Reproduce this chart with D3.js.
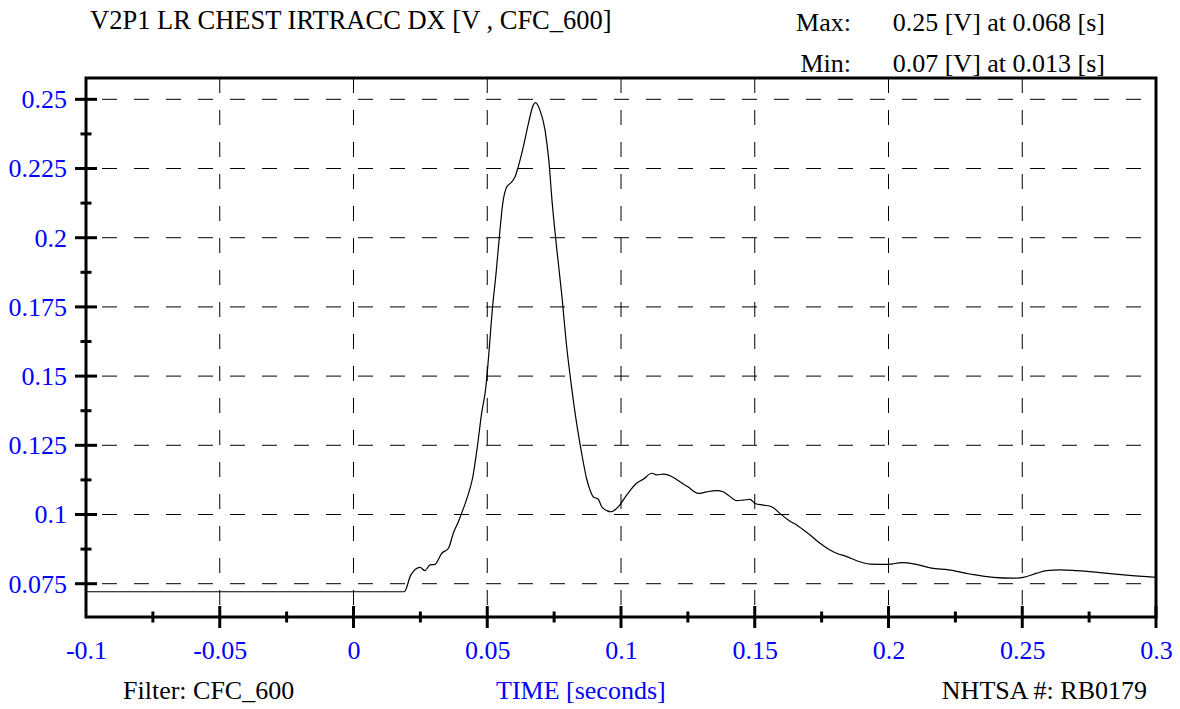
<!DOCTYPE html>
<html>
<head>
<meta charset="utf-8">
<script src="https://cdn.jsdelivr.net/npm/d3@7"></script>
<style>
  html, body { margin: 0; padding: 0; background: #fff; }
  svg text { font-family: "Liberation Serif", "Times New Roman", serif; font-size: 26px; }
</style>
</head>
<body>
<svg id="chart" width="1180" height="709"></svg>
<script>
// ---- data ----
const timeS = [-0.1, 0.019, 0.0214, 0.0249, 0.0267, 0.0286, 0.0305, 0.033, 0.0355, 0.0373, 0.0392,
  0.0411, 0.0428, 0.0445, 0.0463, 0.0479, 0.0495, 0.0504, 0.052, 0.0533, 0.0545, 0.0558, 0.0573,
  0.059, 0.0604, 0.0616, 0.0635, 0.0654, 0.0672, 0.068, 0.0697, 0.0716, 0.073, 0.0743, 0.0759,
  0.0778, 0.0797, 0.0815, 0.0834, 0.0853, 0.0871, 0.0884, 0.0896, 0.0915, 0.0928, 0.0947, 0.0963,
  0.099, 0.1021, 0.1058, 0.1083, 0.1115, 0.1133, 0.1158, 0.1196, 0.122, 0.1250, 0.1289, 0.132,
  0.1358, 0.1382, 0.1401, 0.1432, 0.1457, 0.1482, 0.1501, 0.1532, 0.1563, 0.1594, 0.1625, 0.1663,
  0.1707, 0.1744, 0.1781, 0.1806, 0.1844, 0.1881, 0.1931, 0.2, 0.2049, 0.2099, 0.2161, 0.2224,
  0.2305, 0.2392, 0.2467, 0.2504, 0.2554, 0.2591, 0.2641, 0.2703, 0.2791, 0.289, 0.3];
const voltV = [0.0721, 0.0721, 0.0781, 0.0809, 0.0797, 0.0818, 0.0820, 0.0860, 0.0878, 0.0932, 0.0974,
  0.1022, 0.1070, 0.1131, 0.1245, 0.1366, 0.1462, 0.1558, 0.1751, 0.1872, 0.2001, 0.2124, 0.2184,
  0.2200, 0.2220, 0.2257, 0.2329, 0.2413, 0.2479, 0.2488, 0.2461, 0.2389, 0.2281, 0.2124, 0.1968,
  0.1799, 0.1606, 0.1462, 0.1330, 0.1221, 0.1131, 0.1089, 0.1064, 0.1055, 0.1028, 0.1014, 0.1010,
  0.1028, 0.1070, 0.1113, 0.1127, 0.1149, 0.1143, 0.1146, 0.1134, 0.1118, 0.1100, 0.1076, 0.1082,
  0.1086, 0.1082, 0.1070, 0.1050, 0.1052, 0.1055, 0.1040, 0.1034, 0.1028, 0.1004, 0.0980, 0.0958,
  0.0926, 0.0896, 0.0872, 0.0860, 0.0848, 0.0833, 0.0821, 0.0820, 0.0826, 0.0821, 0.0806, 0.0800,
  0.0785, 0.0773, 0.0770, 0.0773, 0.0788, 0.0797, 0.0800, 0.0797, 0.0790, 0.0781, 0.0773];

const xMajorTicks = [-0.1, -0.05, 0, 0.05, 0.1, 0.15, 0.2, 0.25, 0.3];
const xTickLabels = ["-0.1", "-0.05", "0", "0.05", "0.1", "0.15", "0.2", "0.25", "0.3"];
const xMinorTicks = [-0.075, -0.025, 0.025, 0.075, 0.125, 0.175, 0.225, 0.275];
const yMajorTicks = [0.075, 0.1, 0.125, 0.15, 0.175, 0.2, 0.225, 0.25];
const yTickLabels = ["0.075", "0.1", "0.125", "0.15", "0.175", "0.2", "0.225", "0.25"];
const yMinorTicks = [0.0875, 0.1125, 0.1375, 0.1625, 0.1875, 0.2125, 0.2375];

const titleText = "V2P1 LR CHEST IRTRACC DX [V , CFC_600]";
const maxLabel = "Max:", maxText = "0.25 [V] at 0.068 [s]";
const minLabel = "Min:", minText = "0.07 [V] at 0.013 [s]";
const filterText = "Filter: CFC_600";
const xAxisTitle = "TIME [seconds]";
const idText = "NHTSA #: RB0179";

// ---- layout ----
const L = 86, R = 1156, T = 78, B = 617;
const x = d3.scaleLinear().domain([-0.1, 0.3]).range([L, R]);
const y = d3.scaleLinear().domain([0.06297, 0.2577]).range([B, T]);

const svg = d3.select("#chart");
const blue = "#0000ff";

// grid
svg.append("g").selectAll("line").data(yMajorTicks).join("line")
  .attr("x1", L).attr("x2", R).attr("y1", d => y(d)).attr("y2", d => y(d))
  .attr("stroke", "#000").attr("stroke-width", 1)
  .attr("stroke-dasharray", "15,17").attr("stroke-dashoffset", 16);
svg.append("g").selectAll("line").data(xMajorTicks.filter(d => d > -0.1 && d < 0.3)).join("line")
  .attr("x1", d => x(d)).attr("x2", d => x(d)).attr("y1", T).attr("y2", B)
  .attr("stroke", "#000").attr("stroke-width", 1)
  .attr("stroke-dasharray", "15,17");

// data line
const pts = timeS.map((t, i) => [t, voltV[i]]);
svg.append("path").datum(pts)
  .attr("fill", "none").attr("stroke", "#000").attr("stroke-width", 1.2)
  .attr("d", d3.line().x(d => x(d[0])).y(d => y(d[1])).curve(d3.curveMonotoneX));

// frame
svg.append("rect").attr("x", L).attr("y", T).attr("width", R - L).attr("height", B - T)
  .attr("fill", "none").attr("stroke", "#000").attr("stroke-width", 3);

// ticks
const tk = svg.append("g").attr("stroke", "#000").attr("stroke-width", 3);
tk.selectAll(".xM").data(xMajorTicks.filter(d => d > -0.1)).join("line")
  .attr("x1", d => x(d)).attr("x2", d => x(d)).attr("y1", B - 11).attr("y2", B + 11);
tk.selectAll(".xm").data(xMinorTicks).join("line")
  .attr("x1", d => x(d)).attr("x2", d => x(d)).attr("y1", B - 5.5).attr("y2", B + 5.5);
tk.selectAll(".yM").data(yMajorTicks).join("line")
  .attr("y1", d => y(d)).attr("y2", d => y(d)).attr("x1", L - 11).attr("x2", L + 11);
tk.selectAll(".ym").data(yMinorTicks).join("line")
  .attr("y1", d => y(d)).attr("y2", d => y(d)).attr("x1", L - 5.5).attr("x2", L + 5.5);

// tick labels via d3 axes
const xAxis = d3.axisBottom(x).tickValues(xMajorTicks)
  .tickFormat((d, i) => xTickLabels[i]).tickSize(0).tickPadding(24);
const gx = svg.append("g").attr("transform", `translate(0,${B})`).call(xAxis);
const yAxis = d3.axisLeft(y).tickValues(yMajorTicks)
  .tickFormat((d, i) => yTickLabels[i]).tickSize(0).tickPadding(19);
const gy = svg.append("g").attr("transform", `translate(${L},0)`).call(yAxis);
[gx, gy].forEach(g => {
  g.select(".domain").remove();
  g.selectAll("text").attr("fill", blue)
    .style("font-family", '"Liberation Serif", "Times New Roman", serif').style("font-size", "26px");
  g.attr("font-family", null).attr("font-size", null);
});

// texts
svg.append("text").attr("x", 90).attr("y", 28.5).style("font-size", "26.5px").text(titleText);
svg.append("text").attr("x", 851).attr("y", 31).attr("text-anchor", "end").text(maxLabel);
svg.append("text").attr("x", 1105).attr("y", 31).attr("text-anchor", "end").text(maxText);
svg.append("text").attr("x", 851).attr("y", 72).attr("text-anchor", "end").text(minLabel);
svg.append("text").attr("x", 1105).attr("y", 72).attr("text-anchor", "end").text(minText);
svg.append("text").attr("x", 123).attr("y", 699).text(filterText);
svg.append("text").attr("x", 496).attr("y", 699).attr("fill", blue).text(xAxisTitle);
svg.append("text").attr("x", 1147).attr("y", 699).attr("text-anchor", "end").text(idText);
</script>
</body>
</html>
